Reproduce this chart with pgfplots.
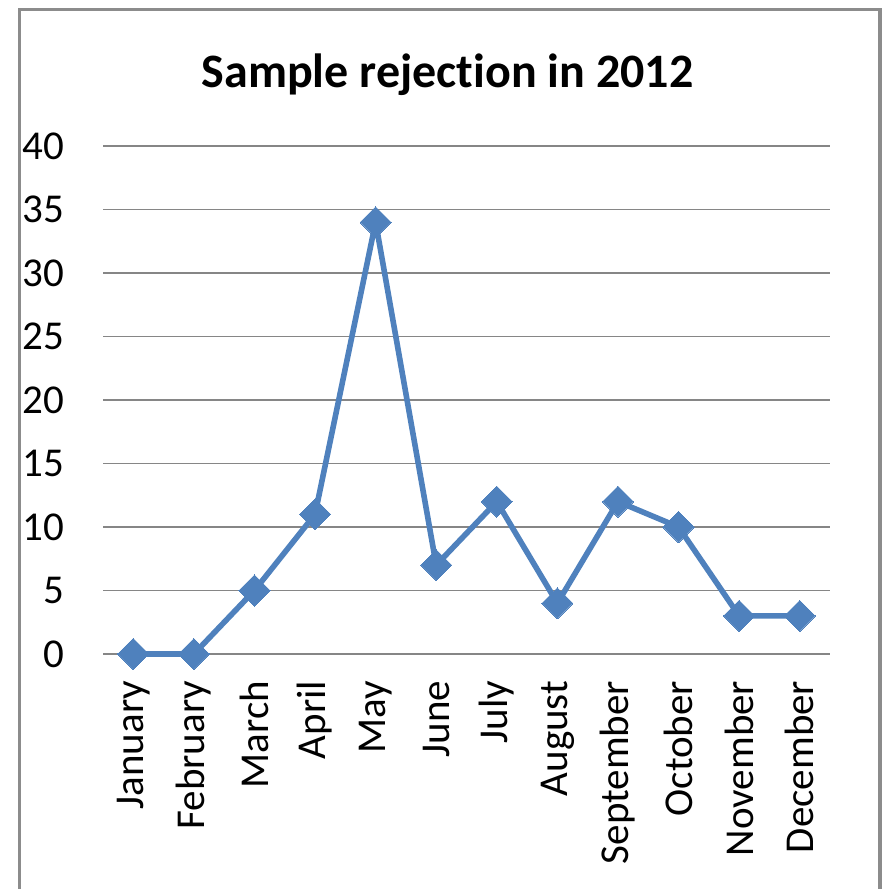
\documentclass[border=0pt]{standalone}
\usepackage{pgfplots}
\pgfplotsset{compat=1.18}
\usepackage{fontspec}
\setmainfont{Carlito}[Ligatures=NoCommon]
\definecolor{lineblue}{HTML}{4F81BD}
\definecolor{gridgray}{HTML}{868686}
\definecolor{framegray}{HTML}{8C8C8C}
\begin{document}
\begin{tikzpicture}[x=0.25pt,y=0.25pt]
\useasboundingbox (0,0) rectangle (883,889);
% chart frame (open at the bottom)
\draw[framegray, line width=0.8pt] (19.5,-20) -- (19.5,879.5) -- (880,879.5) -- (880,-20);
\node[font=\bfseries\fontsize{12}{14}\selectfont, anchor=base, inner sep=0pt] at (447.5,801) {Sample rejection in 2012};
\begin{axis}[
  at={(25.75pt,58.75pt)}, anchor=south west,
  width=181.75pt, height=127pt, scale only axis,
  xmin=-0.5, xmax=11.5, ymin=0, ymax=40,
  ytick={0,5,...,40},
  xtick={0,...,11},
  xticklabels={January,February,March,April,May,June,July,August,September,October,November,December},
  ymajorgrids,
  grid style={gridgray, line width=0.4pt},
  axis line style={draw=none},
  major tick length=0pt,
  clip=false,
  ticklabel style={font=\fontsize{10.25}{12}\selectfont},
  /pgf/number format/assume math mode=true,
  yticklabel style={inner sep=0pt, xshift=-9.5pt},
  xticklabel style={rotate=90, anchor=east, inner sep=0pt, xshift=-6.5pt},
]
\addplot[lineblue, line width=1.4pt, mark=square*, mark size=2.75pt,
  mark options={rotate=45, fill=lineblue, draw=lineblue, line width=0pt}]
  coordinates {(0,0) (1,0) (2,5) (3,11) (4,34) (5,7) (6,12) (7,4) (8,12) (9,10) (10,3) (11,3)};
\end{axis}
\end{tikzpicture}
\end{document}
